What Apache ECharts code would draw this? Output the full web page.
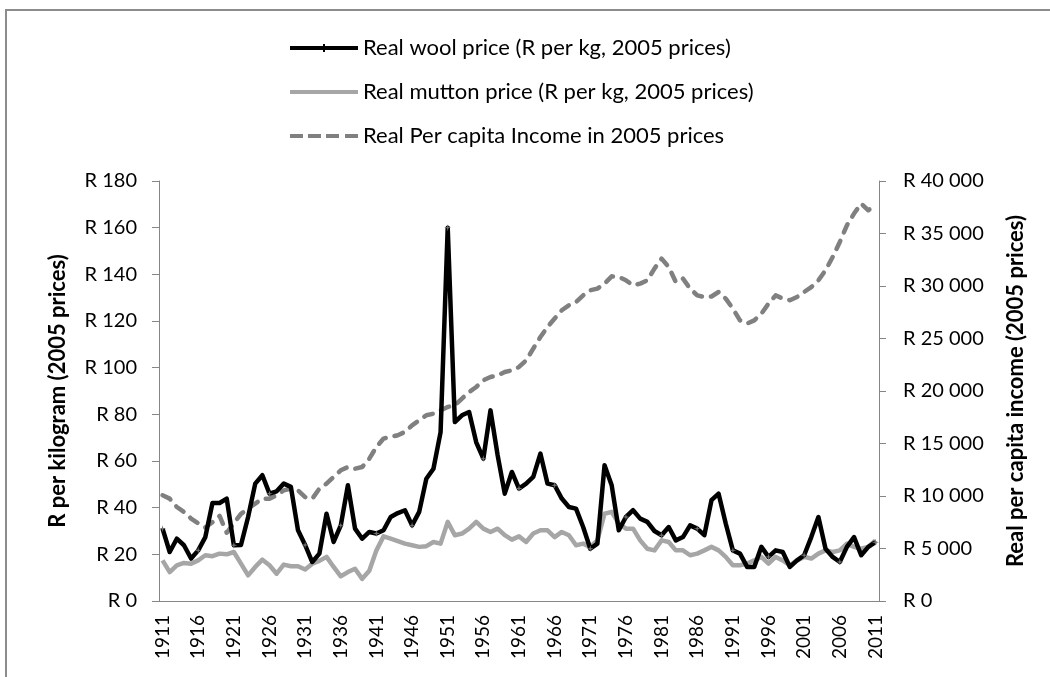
<!DOCTYPE html>
<html>
<head>
<meta charset="utf-8">
<script src="https://cdn.jsdelivr.net/npm/echarts@6/dist/echarts.min.js"></script>
<style>
  html, body { margin: 0; padding: 0; background: #fff; }
  #chart { width: 1050px; height: 677px; }
</style>
</head>
<body>
<div id="chart"></div>
<script>
  // years 1911..2011
  var years = [];
  for (var y = 1911; y <= 2011; y++) {
    years.push(String(y));
  }

  // Real wool price, R per kg (2005 prices)
  var woolPrice = [
    31, 21, 26.7, 23.9, 18.2, 21.7, 27.4, 42, 42, 43.9,
    23.9, 24, 36, 50.3, 53.9, 46, 47, 50.3, 48.9, 30.3,
    24, 16.7, 20.3, 37.4, 25.3, 32.4, 49.6, 31, 26.7, 29.6,
    28.9, 30.3, 36, 37.7, 38.9, 32.4, 38.2, 52.4, 56.7, 72.4,
    160, 76.7, 79.6, 81, 68, 61, 81.7, 62.5, 46, 55.3,
    48.2, 50.3, 53.2, 63.2, 50.3, 49.6, 43.9, 40.3, 39.6, 31.7,
    22.4, 24.6, 58.2, 49.6, 30.3, 36, 38.9, 35.3, 33.9, 30,
    28.2, 31.7, 26, 27.4, 32.4, 31, 28.2, 43.2, 46, 33.2,
    21.7, 20.3, 14.6, 14.6, 23.2, 18.9, 21.7, 21, 14.6, 17.4,
    19.6, 27.4, 36, 22.4, 18.9, 16.7, 23.2, 27.4, 19.6, 23.2,
    25.2
  ];

  // Real mutton price, R per kg (2005 prices)
  var muttonPrice = [
    17.4, 12.4, 15.3, 16.3, 16, 17.4, 19.6, 19.2, 20.3, 20,
    21, 16, 11, 14.6, 17.7, 15.3, 11.7, 15.6, 14.9, 14.9,
    13.5, 16, 17.2, 18.9, 14.6, 10.6, 12.4, 13.8, 9.5, 13,
    21.7, 27.7, 26.7, 25.7, 24.6, 23.9, 23.2, 23.5, 25.3, 24.6,
    33.9, 28.2, 28.9, 31, 33.9, 31, 29.6, 31, 28.2, 26.3,
    27.7, 25.3, 28.9, 30.3, 30.3, 27.4, 29.6, 28.2, 23.9, 24.6,
    23.2, 26, 37.4, 38.2, 33.2, 31, 31, 26, 22.4, 21.7,
    26, 25.3, 21.7, 21.7, 19.6, 20.3, 21.7, 23.2, 21.7, 18.9,
    15.3, 15.3, 16, 17.4, 18.9, 16, 18.9, 17.4, 15.3, 17.4,
    18.9, 18.2, 20.3, 21.7, 21, 21.7, 24.6, 23.2, 22.4, 23.2,
    26
  ];

  // Real per capita income, 2005 prices
  var income = [
    10070, 9750, 8950, 8480, 7850, 7400, 7000, 7500, 8100, 6500,
    7400, 8300, 8800, 9280, 9750, 9750, 10070, 10540, 10700, 10540,
    9900, 9750, 10700, 11180, 11810, 12450, 12760, 12600, 12760, 13560,
    14670, 15470, 15630, 15790, 16100, 16730, 17210, 17690, 17840, 18160,
    18480, 18630, 19280, 19900, 20380, 21020, 21330, 21490, 21810, 21970,
    22290, 22920, 24040, 25140, 26100, 26900, 27690, 28160, 28480, 29110,
    29590, 29750, 30230, 30920, 30860, 30540, 30070, 30230, 30540, 31660,
    32610, 31810, 30380, 30700, 29750, 29110, 28950, 29000, 29430, 28800,
    27850, 26730, 26420, 26730, 27370, 28320, 29110, 28800, 28640, 28950,
    29430, 29900, 30540, 31500, 32760, 34190, 35780, 36900, 37850, 37210,
    37690
  ];

  var seriesNames = [
    'Real wool price (R per kg, 2005 prices)',
    'Real mutton price (R per kg, 2005 prices)',
    'Real Per capita Income in 2005 prices'
  ];

  var FONT = 'Lato';
  var AXIS_COLOR = '#868686';

  // legend swatches, drawn as paths 68 x 4
  var ICON_SOLID = 'path://M0,0H68V4H0Z';
  var ICON_WOOL = 'path://M0,0H33V-2H35V0H68V4H35V6H33V4H0Z';
  var ICON_DASH = 'path://M0,0H13V4H0Z M18,0H31V4H18Z M36,0H49V4H36Z M55,0H68V4H55Z';

  function groupThousands(v) {
    return 'R ' + String(v).replace(/\B(?=(\d{3})+(?!\d))/g, ' ');
  }

  var chart = echarts.init(document.getElementById('chart'));
  var option = {
    animation: false,
    textStyle: { fontFamily: FONT },
    graphic: [{
      type: 'rect',
      shape: { x: 6, y: 10, width: 1100, height: 700 },
      style: { fill: 'none', stroke: '#8c8c8c', lineWidth: 2 },
      silent: true
    }],
    legend: {
      orient: 'vertical',
      left: 285,
      top: 30,
      itemWidth: 68,
      itemHeight: 14,
      itemGap: 18,
      textStyle: { fontFamily: FONT, fontSize: 22, color: '#000', lineHeight: 26 },
      data: [
        { name: seriesNames[0], icon: ICON_WOOL, itemStyle: { color: '#000' } },
        { name: seriesNames[1], icon: ICON_SOLID, itemStyle: { color: '#a6a6a6' } },
        { name: seriesNames[2], icon: ICON_DASH, itemStyle: { color: '#808080' } }
      ]
    },
    grid: {
      left: 159,
      right: 171,
      top: 181,
      bottom: 76
    },
    xAxis: {
      type: 'category',
      data: years,
      boundaryGap: true,
      axisLine: { lineStyle: { color: AXIS_COLOR, width: 1 } },
      axisTick: { interval: 0, length: 6, lineStyle: { color: AXIS_COLOR } },
      axisLabel: {
        interval: 4,
        rotate: 90,
        margin: 14,
        fontSize: 19,
        color: '#000',
        fontFamily: FONT
      }
    },
    yAxis: [{
      type: 'value',
      min: 0,
      max: 180,
      interval: 20,
      name: 'R per kilogram (2005 prices)',
      nameLocation: 'middle',
      nameRotate: 90,
      nameGap: 90,
      nameTextStyle: { fontSize: 22, fontWeight: 'bold', color: '#000', fontFamily: FONT },
      axisLine: { show: true, lineStyle: { color: AXIS_COLOR } },
      axisTick: { show: true, length: 7, lineStyle: { color: AXIS_COLOR } },
      splitLine: { show: false },
      axisLabel: {
        formatter: 'R {value}',
        margin: 22,
        fontSize: 20,
        color: '#000',
        fontFamily: FONT
      }
    }, {
      type: 'value',
      position: 'right',
      min: 0,
      max: 40000,
      interval: 5000,
      name: 'Real per capita income (2005 prices)',
      nameLocation: 'middle',
      nameRotate: 90,
      nameGap: 126,
      nameTextStyle: { fontSize: 22, fontWeight: 'bold', color: '#000', fontFamily: FONT },
      axisLine: { show: true, lineStyle: { color: AXIS_COLOR } },
      axisTick: { show: true, length: 7, lineStyle: { color: AXIS_COLOR } },
      splitLine: { show: false },
      axisLabel: {
        formatter: groupThousands,
        margin: 24,
        fontSize: 20,
        color: '#000',
        fontFamily: FONT
      }
    }],
    series: [{
      name: seriesNames[0],
      type: 'line',
      yAxisIndex: 0,
      data: woolPrice,
      symbol: 'path://M0,-5L1,-1L5,0L1,1L0,5L-1,1L-5,0L-1,-1Z',
      symbolSize: 7,
      itemStyle: { color: '#6e6e6e' },
      lineStyle: { color: '#000', width: 4.5, join: 'round' },
      z: 4
    }, {
      name: seriesNames[1],
      type: 'line',
      yAxisIndex: 0,
      data: muttonPrice,
      symbol: 'none',
      itemStyle: { color: '#a6a6a6' },
      lineStyle: { color: '#a6a6a6', width: 4.5, join: 'round' },
      z: 3
    }, {
      name: seriesNames[2],
      type: 'line',
      yAxisIndex: 1,
      data: income,
      symbol: 'none',
      itemStyle: { color: '#808080' },
      lineStyle: { color: '#808080', width: 4.5, type: [9, 9], cap: 'round', join: 'round' },
      z: 2
    }]
  };
  chart.setOption(option);
</script>
</body>
</html>
